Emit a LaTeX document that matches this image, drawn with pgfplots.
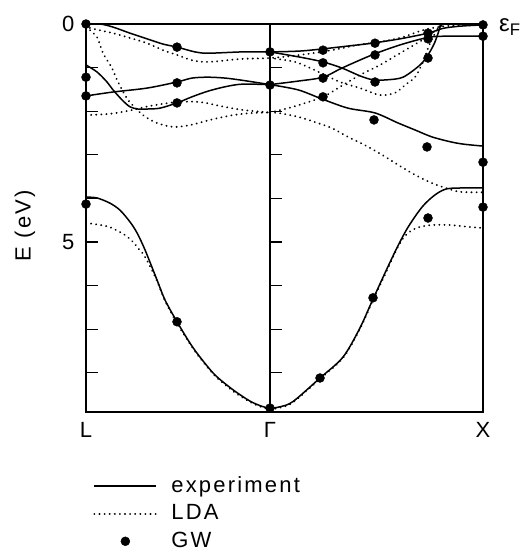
\documentclass[border=0pt]{standalone}
\usepackage{fontspec}
\setmainfont{Liberation Sans}[LetterSpace=10]
\usepackage{pgfplots}
\pgfplotsset{compat=1.18}
\pgfplotsset{
 exp/.style={black, line width=1.5pt, smooth, no markers},
 lda/.style={black, line width=2pt, line cap=round, dash pattern=on 0.1pt off 5pt, smooth, no markers},
 gw/.style={black, only marks, mark=*, mark size=4.5pt},
}
\begin{document}
\fontsize{22}{26}\selectfont
\begin{tikzpicture}
\useasboundingbox (0,0) rectangle (527pt,554pt);
\begin{axis}[
 at={(86pt,142pt)}, anchor=south west,
 scale only axis, width=397pt, height=388pt,
 xmin=0, xmax=397, ymin=0, ymax=8.9, y dir=reverse,
 clip=false,
 axis line style={line width=1.3pt},
 xtick={0,184,397}, xticklabels={L,Γ,X}, xtick style={draw=none},
 xticklabel style={yshift=-3pt},
 ytick={0,...,8}, yticklabels={0,,,,,5,,,},
 yticklabel style={xshift=-4pt},
 ytick pos=left, tick align=inside, major tick length=12pt,
 ytick style={line width=1.2pt, black},
 legend style={at={(axis description cs:0.018,-0.16)}, anchor=north west, draw=none, fill=none, inner sep=0pt, row sep=5pt, cells={anchor=west},
   /tikz/every odd column/.append style={column sep=12pt}},
 legend image code/.code={\draw[#1] (0pt,0pt) -- (62pt,0pt);},
]
% ---------- experiment (solid) ----------
\addplot[exp] coordinates {(0,0) (14,0) (27,0.07) (44,0.21) (61,0.34) (77,0.46) (91,0.53) (109,0.64) (122,0.67) (156,0.64) (184,0.64)
 (214,0.62) (237,0.57) (264,0.50) (286,0.44) (314,0.34) (342,0.21) (357,0.10) (374,0.05) (397,0.02)};
\addlegendentry{experiment}
% ---------- LDA (dotted) ----------
\addplot[lda] coordinates {(0,0.02) (4,0.09) (27,0.21) (44,0.32) (61,0.44) (77,0.60) (91,0.71) (106,0.83) (122,0.87) (156,0.80) (184,0.78)
 (214,0.71) (246,0.60) (272,0.48) (294,0.41) (317,0.30) (337,0.14) (359,0.05) (397,0)};
\addlegendentry{LDA}
% ---------- GW ----------
\addplot[gw, legend image code/.code={\fill (31pt,0pt) circle (4.5pt);}] coordinates {
 (0,0) (0,1.22) (0,1.65) (0,4.13)
 (91,0.53) (91,1.35) (91,1.81) (91,6.83)
 (184,0.64) (184,1.40) (184,8.81)
 (237,0.60) (237,0.89) (237,1.24) (237,1.67) (234,8.12)
 (289,0.44) (289,0.71) (289,1.33) (288,2.20) (287,6.28)
 (342,0.21) (342,0.34) (342,0.78) (341,2.82) (342,4.45)
 (397,0.02) (397,0.28) (397,3.17) (397,4.20)};
\addlegendentry{GW}

% experiment, L-Gamma
\addplot[exp, forget plot] coordinates {(0,0.94) (11,1.10) (21,1.33) (27,1.51) (36,1.74) (44,1.90) (52,1.95) (61,1.95) (74,1.93) (91,1.81) (106,1.67) (122,1.54) (139,1.44) (156,1.38) (184,1.39)};
\addplot[exp, forget plot] coordinates {(0,1.65) (27,1.56) (61,1.47) (91,1.33) (106,1.24) (122,1.22) (139,1.24) (156,1.29) (184,1.39)};
% experiment, lowest band L-Gamma-X
\addplot[exp, forget plot] coordinates {(0,3.97) (11,3.99) (24,4.11) (34,4.27) (44,4.54) (51,4.79) (59,5.18) (71,5.87) (79,6.33) (91,6.83) (104,7.32) (114,7.64) (129,8.05) (147,8.39) (164,8.65) (176,8.77) (184,8.81)
 (194,8.78) (207,8.66) (234,8.12) (257,7.64) (274,6.97) (287,6.31) (307,5.32) (321,4.70) (336,4.20) (349,3.92) (361,3.78) (380,3.76) (397,3.76)};
% experiment, Gamma-X
\addplot[exp, forget plot] coordinates {(184,0.64) (214,0.76) (237,0.87) (256,1.01) (274,1.19) (287,1.28) (301,1.28) (317,1.22) (334,0.94) (342,0.71) (349,0.41) (355,0)};
\addplot[exp, forget plot] coordinates {(184,1.39) (212,1.31) (237,1.22) (256,1.01) (286,0.71) (314,0.48) (344,0.30) (369,0.28) (397,0.28)};
\addplot[exp, forget plot] coordinates {(184,1.39) (212,1.51) (236,1.72) (262,1.93) (289,2.04) (312,2.27) (329,2.43) (346,2.59) (366,2.71) (379,2.76) (397,2.80)};

% LDA, L-Gamma
\addplot[lda, forget plot] coordinates {(0,0.07) (11,0.30) (17,0.67) (26,1.01) (31,1.28) (42,1.74) (57,2.09) (71,2.27) (87,2.36) (104,2.32) (124,2.20) (147,2.09) (167,2.04) (184,2.03)};
\addplot[lda, forget plot] coordinates {(0,2.09) (24,2.06) (47,1.97) (64,1.88) (91,1.79) (114,1.79) (134,1.88) (156,1.97) (184,2.03)};
% LDA, lowest band L-Gamma-X
\addplot[lda, forget plot] coordinates {(0,4.56) (14,4.61) (24,4.66) (32,4.75) (39,4.84) (47,5.00) (52,5.14) (59,5.34) (71,5.89) (79,6.35) (91,6.86) (104,7.34) (114,7.66) (129,8.07) (147,8.42) (164,8.67) (176,8.79) (184,8.83)
 (194,8.80) (207,8.68) (234,8.14) (257,7.66) (274,6.99) (287,6.33) (300,5.70) (310,5.20) (317,4.92) (324,4.76) (333,4.66) (346,4.61) (364,4.61) (381,4.65) (397,4.68)};
% LDA, Gamma-X
\addplot[lda, forget plot] coordinates {(184,0.78) (209,0.87) (229,1.06) (254,1.33) (274,1.47) (294,1.63) (309,1.58) (319,1.40) (329,1.22) (337,0.87) (344,0.44) (351,0.14) (355,0)};
\addplot[lda, forget plot] coordinates {(184,2.03) (207,1.90) (237,1.67) (254,1.44) (274,1.17) (294,0.94) (314,0.67) (331,0.44) (341,0.30) (354,0.07) (359,0)};
\addplot[lda, forget plot] coordinates {(184,2.04) (192,2.04) (212,2.13) (229,2.25) (246,2.39) (262,2.59) (279,2.78) (296,3.00) (312,3.23) (329,3.46) (346,3.65) (361,3.77) (374,3.85) (397,3.86)};

% Gamma line with its ticks
\draw[line width=1.3pt] (axis cs:184,0) -- (axis cs:184,8.9);
\pgfplotsinvokeforeach{1,...,8}{\draw[line width=1.2pt] (axis cs:184,#1) -- ++(12pt,0pt);}
\node[rotate=90, anchor=center] at (axis description cs:-0.154,0.48) {E (eV)};
\node[anchor=west, inner sep=0pt] at (axis cs:397,0) [xshift=16pt, yshift=-3pt] {\fontsize{24}{28}\selectfont ε\textsubscript{F}};
\end{axis}
\end{tikzpicture}
\end{document}
